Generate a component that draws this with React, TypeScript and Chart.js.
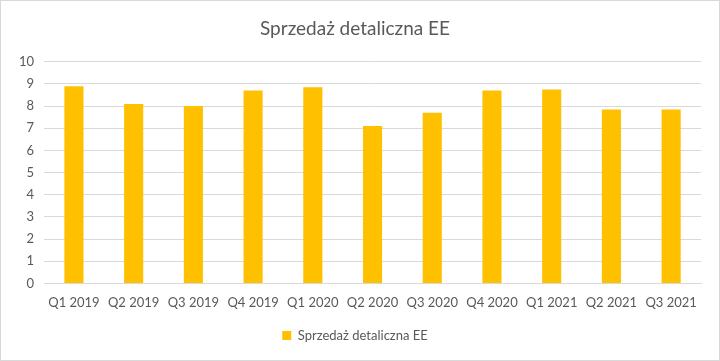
import React, { useEffect, useRef } from "react";
import { Chart, registerables } from "chart.js";

Chart.register(...registerables);

const categories = ["Q1 2019", "Q2 2019", "Q3 2019", "Q4 2019", "Q1 2020", "Q2 2020", "Q3 2020", "Q4 2020", "Q1 2021", "Q2 2021", "Q3 2021"];
const values = [8.9, 8.1, 8.0, 8.7, 8.85, 7.1, 7.7, 8.7, 8.75, 7.85, 7.85];
const seriesName = "Sprzedaż detaliczna EE";
const title = "Sprzedaż detaliczna EE";

export default function App() {
  const ref = useRef<HTMLCanvasElement>(null);
  useEffect(() => {
    document.body.style.margin = "0";
    const ctx = ref.current!;
    const chart = new Chart(ctx, {
      type: "bar",
      data: {
        labels: categories,
        datasets: [
          {
            label: seriesName,
            data: values,
            backgroundColor: "#FFC000",
            borderWidth: 0,
            categoryPercentage: 1,
            barPercentage: 0.32,
          },
        ],
      },
      options: {
        animation: false,
        responsive: false,
        maintainAspectRatio: false,
        layout: { padding: { left: 8, right: 18, top: 8, bottom: 8 } },
        plugins: {
          title: {
            display: true,
            text: title,
            color: "#595959",
            font: { family: "Lato", size: 19, weight: "normal" },
            padding: { top: 8, bottom: 22 },
          },
          legend: {
            position: "bottom",
            labels: {
              color: "#595959",
              font: { family: "Lato", size: 13 },
              boxWidth: 9,
              boxHeight: 9,
              padding: 14,
            },
          },
          tooltip: { enabled: false },
        },
        scales: {
          x: {
            grid: { display: false },
            border: { color: "#d9d9d9" },
            ticks: { color: "#595959", font: { family: "Lato", size: 13 }, maxRotation: 0, padding: 4 },
          },
          y: {
            min: 0,
            max: 10,
            ticks: { stepSize: 1, color: "#595959", font: { family: "Lato", size: 13 }, padding: 10 },
            grid: { color: "#d9d9d9", drawTicks: false },
            border: { display: false },
          },
        },
      },
    });
    return () => chart.destroy();
  }, []);
  return (
    <div style={{ width: 720, height: 361, boxSizing: "border-box", border: "1px solid #d9d9d9", background: "#fff" }}>
      <canvas ref={ref} width={718} height={359} style={{ display: "block" }} />
    </div>
  );
}
